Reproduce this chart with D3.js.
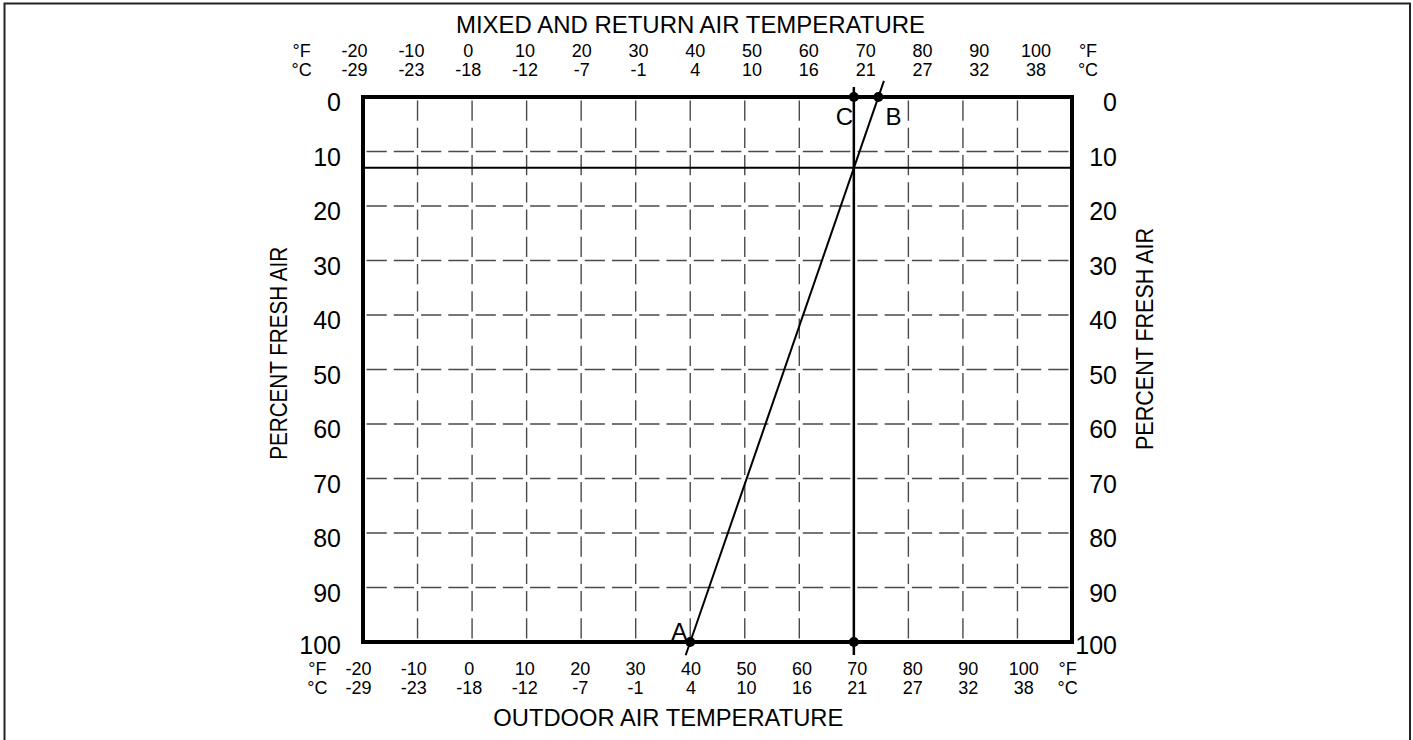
<!DOCTYPE html>
<html>
<head>
<meta charset="utf-8">
<script src="https://cdn.jsdelivr.net/npm/d3@7"></script>
<style>
  body{margin:0;background:#fff;}
  svg{display:block;font-family:"Liberation Sans",Arial,Helvetica,sans-serif;}
  .grid{stroke:#4a4a4a;stroke-width:1.4;fill:none;}
  .frame{stroke:#000;stroke-width:4;fill:none;}
  .tick_lbl{font-size:18px;fill:#000;}
  .unit_lbl{font-size:18px;fill:#000;}
  .pct_lbl{font-size:25px;fill:#000;}
  .title{font-size:24px;fill:#000;}
  .pt_lbl{font-size:24px;fill:#000;}
</style>
</head>
<body>
<svg></svg>
<script>
// tick values
const fahrenheit = [-20,-10,0,10,20,30,40,50,60,70,80,90,100];
const celsius    = [-29,-23,-18,-12,-7,-1,4,10,16,21,27,32,38];
const percent    = [0,10,20,30,40,50,60,70,80,90,100];
const grid_temps = [-10,0,10,20,30,40,50,60,70,80,90,100];
const grid_pcts  = [10,20,30,40,50,60,70,80,90];
const temp_domain = [-20,110];

// example points (outdoor A, return B, mixed C)
const point_a = {name:'A', temp:40,   pct:100};
const point_b = {name:'B', temp:74.5, pct:0};
const point_c = {name:'C', temp:70,   pct:0};
const point_c_low = {name:'', temp:70, pct:100};
const fresh_air_pct = 13;

const W = 1413, H = 740;
const svg = d3.select("svg").attr("width",W).attr("height",H);

// scales
const x = d3.scaleLinear().domain(temp_domain).range([363,1072]);
const y = d3.scaleLinear().domain([0,100]).range([97,642]);
// label rows are not exactly on the grid in the original drawing
const x_top = d3.scaleLinear().domain([-20,100]).range([354.6,1036]);
const x_bot = d3.scaleLinear().domain([-20,100]).range([358.4,1023.7]);

// outer border
svg.append("rect").attr("x",4.5).attr("y",3.5).attr("width",1405.5).attr("height",760)
  .attr("fill","none").attr("stroke","#222").attr("stroke-width",2);

// dashed grid, gaps centered on grid crossings
const cell_x = x(10)-x(0), cell_y = y(10)-y(0);
const gap = 7;
function dash(cell){ return [(cell/2-gap),gap]; }

svg.append("g").selectAll("line.vg").data(grid_temps).enter()
  .append("line").attr("class","grid")
  .attr("x1",d=>x(d)).attr("x2",d=>x(d))
  .attr("y1",y(0)).attr("y2",y(100))
  .attr("stroke-dasharray",dash(cell_y).join(","))
  .attr("stroke-dashoffset",cell_y/2-gap/2);

svg.append("g").selectAll("line.hg").data(grid_pcts).enter()
  .append("line").attr("class","grid")
  .attr("x1",x(temp_domain[0])).attr("x2",x(temp_domain[1]))
  .attr("y1",d=>y(d)).attr("y2",d=>y(d))
  .attr("stroke-dasharray",dash(cell_x).join(","))
  .attr("stroke-dashoffset",cell_x/2-gap/2);

// fresh air % line
svg.append("line").attr("x1",x(temp_domain[0])).attr("x2",x(temp_domain[1]))
  .attr("y1",y(fresh_air_pct)).attr("y2",y(fresh_air_pct))
  .attr("stroke","#000").attr("stroke-width",2);

// mixed air temperature line (70F), sticks out a bit past the frame
const ext = 10;
svg.append("line").attr("x1",x(point_c.temp)).attr("x2",x(point_c.temp))
  .attr("y1",y(0)-ext).attr("y2",y(100)+13)
  .attr("stroke","#000").attr("stroke-width",2.5);

// frame
svg.append("rect").attr("class","frame")
  .attr("x",x(temp_domain[0])).attr("y",y(0))
  .attr("width",x(temp_domain[1])-x(temp_domain[0])).attr("height",y(100)-y(0));

// A-B line, extended past both points
function draw_ab(p_obj,a,b,e1,e2){
  let ax=x(a.temp), ay=y(a.pct), bx=x(b.temp), by=y(b.pct);
  let len=Math.hypot(bx-ax,by-ay), ux=(bx-ax)/len, uy=(by-ay)/len;
  return p_obj.append("line")
    .attr("x1",ax-ux*e1).attr("y1",ay-uy*e1)
    .attr("x2",bx+ux*e2).attr("y2",by+uy*e2)
    .attr("stroke","#000").attr("stroke-width",2);
}
draw_ab(svg,point_a,point_b,14,17);

// dots
svg.append("g").selectAll("circle").data([point_a,point_b,point_c,point_c_low]).enter()
  .append("circle").attr("r",5)
  .attr("cx",d=>x(d.temp)).attr("cy",d=>y(d.pct)).attr("fill","#000");

// point labels
function draw_text(p_obj,tx,ty,text,cls,anchor="middle"){
  return p_obj.append("text").attr("class",cls).attr("text-anchor",anchor)
    .attr("x",tx).attr("y",ty).text(text);
}
draw_text(svg,x(point_c.temp)-9.5,y(point_c.pct)+28,point_c.name,"pt_lbl");
draw_text(svg,x(point_b.temp)+15,y(point_b.pct)+28,point_b.name,"pt_lbl");
draw_text(svg,x(point_a.temp)-11,y(point_a.pct)-2,point_a.name,"pt_lbl");

// percent labels, both sides
svg.append("g").selectAll("text").data(percent).enter()
  .append("text").attr("class","pct_lbl").attr("text-anchor","end")
  .attr("x",341).attr("y",d=>y(d)+(d==100?12:14)).text(d=>d);
svg.append("g").selectAll("text").data(percent).enter()
  .append("text").attr("class","pct_lbl").attr("text-anchor","end")
  .attr("x",1117).attr("y",d=>y(d)+(d==100?12:14)).text(d=>d);

// temperature rows
function temp_rows(scale,y_f,y_c){
  let g = svg.append("g");
  g.selectAll("text.f").data(fahrenheit).enter()
    .append("text").attr("class","tick_lbl").attr("text-anchor","middle")
    .attr("x",d=>scale(d)).attr("y",y_f).text(d=>d);
  g.selectAll("text.c").data(celsius).enter()
    .append("text").attr("class","tick_lbl").attr("text-anchor","middle")
    .attr("x",(d,i)=>scale(fahrenheit[i])).attr("y",y_c).text(d=>d);
  return g;
}
let top_g = temp_rows(x_top,y(0)-40,y(0)-21);
let bot_g = temp_rows(x_bot,y(100)+33,y(100)+52);

// unit labels
[[x_top(-20)-53,x_top(100)+52,y(0)-40,y(0)-21],
 [x_bot(-20)-41,x_bot(100)+44,y(100)+33,y(100)+52]].forEach(u=>{
  draw_text(svg,u[0],u[2],"°F","unit_lbl");
  draw_text(svg,u[0],u[3],"°C","unit_lbl");
  draw_text(svg,u[1],u[2],"°F","unit_lbl");
  draw_text(svg,u[1],u[3],"°C","unit_lbl");
});

// titles
draw_text(svg,690.5,33,"MIXED AND RETURN AIR TEMPERATURE","title")
  .attr("textLength",469).attr("lengthAdjust","spacingAndGlyphs");
draw_text(svg,668.3,726,"OUTDOOR AIR TEMPERATURE","title")
  .attr("textLength",350).attr("lengthAdjust","spacingAndGlyphs");
draw_text(svg,0,0,"PERCENT FRESH AIR","title")
  .attr("transform","translate(286.5,353.3) rotate(-90)")
  .attr("textLength",213).attr("lengthAdjust","spacingAndGlyphs");
draw_text(svg,0,0,"PERCENT FRESH AIR","title")
  .attr("transform","translate(1153,339) rotate(-90)")
  .attr("textLength",222).attr("lengthAdjust","spacingAndGlyphs");
</script>
</body>
</html>
